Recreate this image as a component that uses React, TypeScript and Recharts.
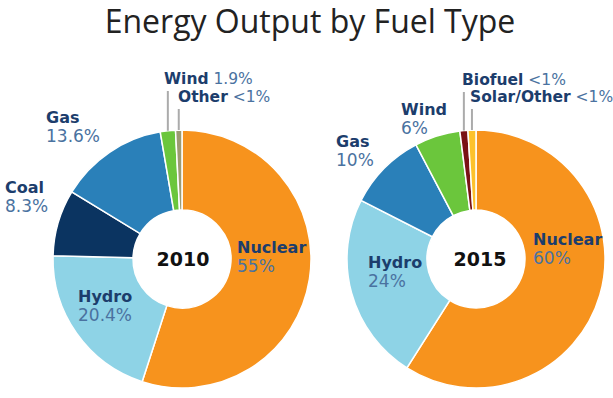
import React from 'react';
import { PieChart, Pie, Cell } from 'recharts';

// 2010 mix, clockwise from 12 o'clock
const fuels2010 = ['Nuclear', 'Hydro', 'Coal', 'Gas', 'Wind', 'Other'];
const values2010 = [55, 20.4, 8.3, 13.6, 1.9, 0.8];
const pct2010 = ['55%', '20.4%', '8.3%', '13.6%', '1.9%', '<1%'];

// 2015 mix
const fuels2015 = ['Nuclear', 'Hydro', 'Gas', 'Wind', 'Biofuel', 'Solar/Other'];
const values2015 = [59, 23.5, 9.8, 5.7, 1, 1];
const pct2015 = ['60%', '24%', '10%', '6%', '<1%', '<1%'];

const COLORS: Record<string, string> = {
  Nuclear: '#F7931D',
  Hydro: '#8ED3E6',
  Coal: '#0B3461',
  Gas: '#2A80B9',
  Wind: '#6BC63C',
  Other: '#9C9A72',
  Biofuel: '#7A1215',
  'Solar/Other': '#FDC22C',
};

const NAME_COLOR = '#1C3D6C';
const PCT_COLOR = '#4A72A0';
const NAME_FONT = '"DejaVu Sans", sans-serif';
const PCT_FONT = '"DejaVu Sans", sans-serif';

// label placement relative to pie centre: left edge x, baseline of first line
type Spot = { dx: number; dy: number; inline?: boolean };
const spots2010: Record<string, Spot> = {
  Nuclear: { dx: 55, dy: -6 },
  Hydro: { dx: -104, dy: 43 },
  Coal: { dx: -177, dy: -66 },
  Gas: { dx: -136, dy: -136 },
  Wind: { dx: -18, dy: -175, inline: true },
  Other: { dx: -4, dy: -157, inline: true },
};
const spots2015: Record<string, Spot> = {
  Nuclear: { dx: 57, dy: -14 },
  Hydro: { dx: -108, dy: 9 },
  Gas: { dx: -140, dy: -112 },
  Wind: { dx: -75, dy: -144 },
  Biofuel: { dx: -14, dy: -174, inline: true },
  'Solar/Other': { dx: -6, dy: -157, inline: true },
};

const build = (names: string[], vals: number[], pcts: string[]) =>
  names.map((name, i) => ({ name, value: vals[i], pct: pcts[i] }));

const data2010 = build(fuels2010, values2010, pct2010);
const data2015 = build(fuels2015, values2015, pct2015);

const RADIAN = Math.PI / 180;

const makeLabel = (spots: Record<string, Spot>, year: string, yearDx: number) => (props: any) => {
  const { cx, cy, midAngle, outerRadius, index } = props;
  const entry = props.payload ?? props;
  const name = entry.name ?? props.name;
  const spot = spots[name];
  if (!spot) return null;
  const x = cx + spot.dx;
  const y = cy + spot.dy;
  const yearText =
    index === 0 ? (
      <text
        x={cx + yearDx}
        y={cy}
        textAnchor="middle"
        dominantBaseline="central"
        fontFamily='"DejaVu Sans", sans-serif'
        fontWeight={700}
        fontSize={19}
        fill="#111"
      >
        {year}
      </text>
    ) : null;
  if (spot.inline) {
    const ex = cx + outerRadius * Math.cos(-midAngle * RADIAN);
    const ey = cy + outerRadius * Math.sin(-midAngle * RADIAN);
    return (
      <g>
        <line x1={ex} y1={ey} x2={ex} y2={y + 7} stroke="#ABABAB" strokeWidth={2} />
        <text x={x} y={y} fontSize={15.5}>
          <tspan fontFamily={NAME_FONT} fontWeight={700} fill={NAME_COLOR}>{name}</tspan>
          <tspan fontFamily={PCT_FONT} fill={PCT_COLOR}>{' ' + entry.pct}</tspan>
        </text>
      </g>
    );
  }
  return (
    <g>
      {yearText}
      <text x={x} y={y} fontFamily={NAME_FONT} fontWeight={700} fontSize={16} fill={NAME_COLOR}>
        {name}
      </text>
      <text x={x} y={y + 19} fontFamily={PCT_FONT} fontSize={17} fill={PCT_COLOR}>
        {entry.pct}
      </text>
    </g>
  );
};

export default function App() {
  return (
    <div style={{ position: 'absolute', left: 0, top: 0, width: 613, height: 398, background: '#fff' }}>
      <div
        style={{
          position: 'absolute',
          left: 0,
          top: 0,
          width: 620,
          textAlign: 'center',
          fontFamily: '"Open Sans", sans-serif',
          fontSize: 32,
          color: '#222',
          lineHeight: '42px',
        }}
      >
        Energy Output by Fuel Type
      </div>
      <PieChart width={613} height={398}>
        <Pie
          data={data2010}
          dataKey="value"
          nameKey="name"
          cx={177}
          cy={254}
          innerRadius={49}
          outerRadius={129}
          startAngle={90}
          endAngle={-270}
          stroke="#fff"
          strokeWidth={1.5}
          labelLine={false}
          label={makeLabel(spots2010, '2010', 1)}
          isAnimationActive={false}
        >
          {data2010.map((d) => (
            <Cell key={d.name} fill={COLORS[d.name]} />
          ))}
        </Pie>
        <Pie
          data={data2015}
          dataKey="value"
          nameKey="name"
          cx={471}
          cy={254}
          innerRadius={49}
          outerRadius={129}
          startAngle={90}
          endAngle={-270}
          stroke="#fff"
          strokeWidth={1.5}
          labelLine={false}
          label={makeLabel(spots2015, '2015', 4)}
          isAnimationActive={false}
        >
          {data2015.map((d) => (
            <Cell key={d.name} fill={COLORS[d.name]} />
          ))}
        </Pie>
      </PieChart>
    </div>
  );
}
